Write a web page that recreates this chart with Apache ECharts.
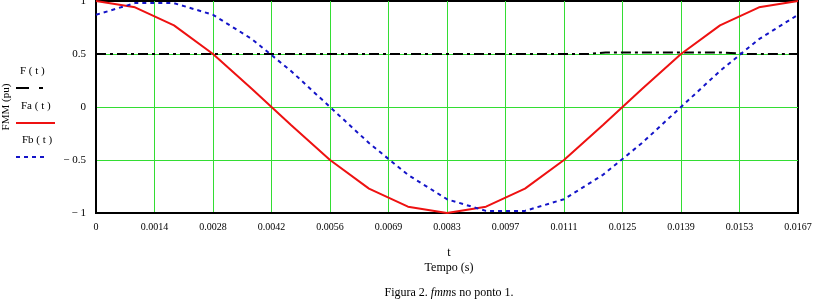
<!DOCTYPE html>
<html><head><meta charset="utf-8">
<script src="https://cdn.jsdelivr.net/npm/echarts@6/dist/echarts.min.js"></script>
<style>html,body{margin:0;padding:0;background:#fff}#c{width:817px;height:304px}</style>
</head><body><div id="c"></div>
<script>
// sample times (s), one every 20 electrical degrees over one 60 Hz period
const timeS = [0, 0.000926, 0.001852, 0.002778, 0.003704, 0.00463, 0.005556, 0.006481, 0.007407,
  0.008333, 0.009259, 0.010185, 0.011111, 0.012037, 0.012963, 0.013889, 0.014815, 0.015741, 0.016667];
const faValues = [1, 0.94, 0.77, 0.5, 0.17, -0.17, -0.5, -0.77, -0.94, -1, -0.94, -0.77, -0.5, -0.17, 0.17, 0.5, 0.77, 0.94, 1];
const fbValues = [0.87, 0.98, 0.98, 0.87, 0.64, 0.34, 0, -0.34, -0.64, -0.87, -0.98, -0.98, -0.87, -0.64, -0.34, 0, 0.34, 0.64, 0.87];
const fTimeS = [0, 0.0117, 0.0121, 0.0148, 0.0155, 0.016667];
const fValues = [0.5, 0.5, 0.515, 0.515, 0.5, 0.5];
const xTickLabels = ['0', '0.0014', '0.0028', '0.0042', '0.0056', '0.0069', '0.0083', '0.0097', '0.0111', '0.0125', '0.0139', '0.0153', '0.0167'];
const yTickValues = [-1, -0.5, 0, 0.5, 1];
const yTickLabels = ['\u2212 1', '\u2212 0.5', '0', '0.5', '1'];

const X_MAX = 0.016667;
const X_STEP = X_MAX / (xTickLabels.length - 1);
const serif = '"Liberation Serif", "Times New Roman", serif';
const GREEN = '#33dd33';

const pair = (xs, ys) => xs.map((x, i) => [x, ys[i]]);

const chart = echarts.init(document.getElementById('c'), null, {renderer: 'canvas'});
chart.setOption({
  animation: false,
  backgroundColor: '#fff',
  grid: {left: 96, right: 19, top: 1, bottom: 91, outerBoundsMode: 'none', containLabel: false,
         show: true, borderColor: '#000', borderWidth: 2, backgroundColor: 'rgba(0,0,0,0)'},
  xAxis: {
    type: 'value', min: 0, max: X_MAX, interval: X_STEP,
    axisLine: {show: true, onZero: false, lineStyle: {color: '#000', width: 2}},
    axisTick: {show: false},
    splitLine: {show: true, showMinLine: false, showMaxLine: false, lineStyle: {color: GREEN, width: 1}},
    axisLabel: {
      margin: 9, color: '#000', fontFamily: serif, fontSize: 10,
      formatter: v => xTickLabels[Math.round(v / X_STEP)]
    }
  },
  yAxis: {
    type: 'value', min: -1, max: 1, interval: 0.5,
    name: 'FMM (pu)', nameLocation: 'middle', nameGap: 84, nameRotate: 90,
    nameTextStyle: {color: '#000', fontFamily: serif, fontSize: 11},
    axisLine: {show: true, onZero: false, lineStyle: {color: '#000', width: 2}},
    axisTick: {show: false},
    splitLine: {show: true, showMinLine: false, showMaxLine: false, lineStyle: {color: GREEN, width: 1}},
    axisLabel: {
      margin: 10, color: '#000', fontFamily: serif, fontSize: 11,
      formatter: v => yTickLabels[yTickValues.indexOf(Math.round(v * 2) / 2)]
    }
  },
  series: [
    {name: 'F ( t )', type: 'line', data: pair(fTimeS, fValues), showSymbol: false, symbol: 'none',
     lineStyle: {color: '#000', width: 2, type: [10, 4, 3, 4]}, z: 3},
    {name: 'Fa ( t )', type: 'line', data: pair(timeS, faValues), showSymbol: false, symbol: 'none',
     lineStyle: {color: '#ee1111', width: 2}, z: 4},
    {name: 'Fb ( t )', type: 'line', data: pair(timeS, fbValues), showSymbol: false, symbol: 'none',
     lineStyle: {color: '#1414c8', width: 2, type: [4, 4]}, z: 5}
  ],
  graphic: [
    {type: 'text', left: 20, top: 66, style: {text: 'F ( t )', font: '11px ' + serif, fill: '#000'}},
    {type: 'line', shape: {x1: 16, y1: 88, x2: 29, y2: 88}, style: {stroke: '#000', lineWidth: 2}},
    {type: 'line', shape: {x1: 39, y1: 88, x2: 43, y2: 88}, style: {stroke: '#000', lineWidth: 2}},
    {type: 'text', left: 21, top: 101, style: {text: 'Fa ( t )', font: '11px ' + serif, fill: '#000'}},
    {type: 'line', shape: {x1: 16, y1: 123, x2: 55, y2: 123}, style: {stroke: '#ee1111', lineWidth: 2}},
    {type: 'text', left: 22, top: 135, style: {text: 'Fb ( t )', font: '11px ' + serif, fill: '#000'}},
    {type: 'line', shape: {x1: 16, y1: 157, x2: 48, y2: 157}, style: {stroke: '#1414c8', lineWidth: 2, lineDash: [4, 4]}},
    {type: 'text', x: 449, y: 253, style: {text: 't', font: '12px ' + serif, fill: '#000', align: 'center', verticalAlign: 'middle'}},
    {type: 'text', x: 449, y: 268, style: {text: 'Tempo (s)', font: '12px ' + serif, fill: '#000', align: 'center', verticalAlign: 'middle'}},
    {type: 'text', x: 449, y: 293, style: {
      text: '{n|Figura 2. }{i|fmm}{n|s no ponto 1.}', align: 'center', verticalAlign: 'middle',
      rich: {n: {font: '12px ' + serif, fill: '#000'}, i: {font: 'italic 12px ' + serif, fill: '#000'}}
    }}
  ]
});
</script></body></html>
